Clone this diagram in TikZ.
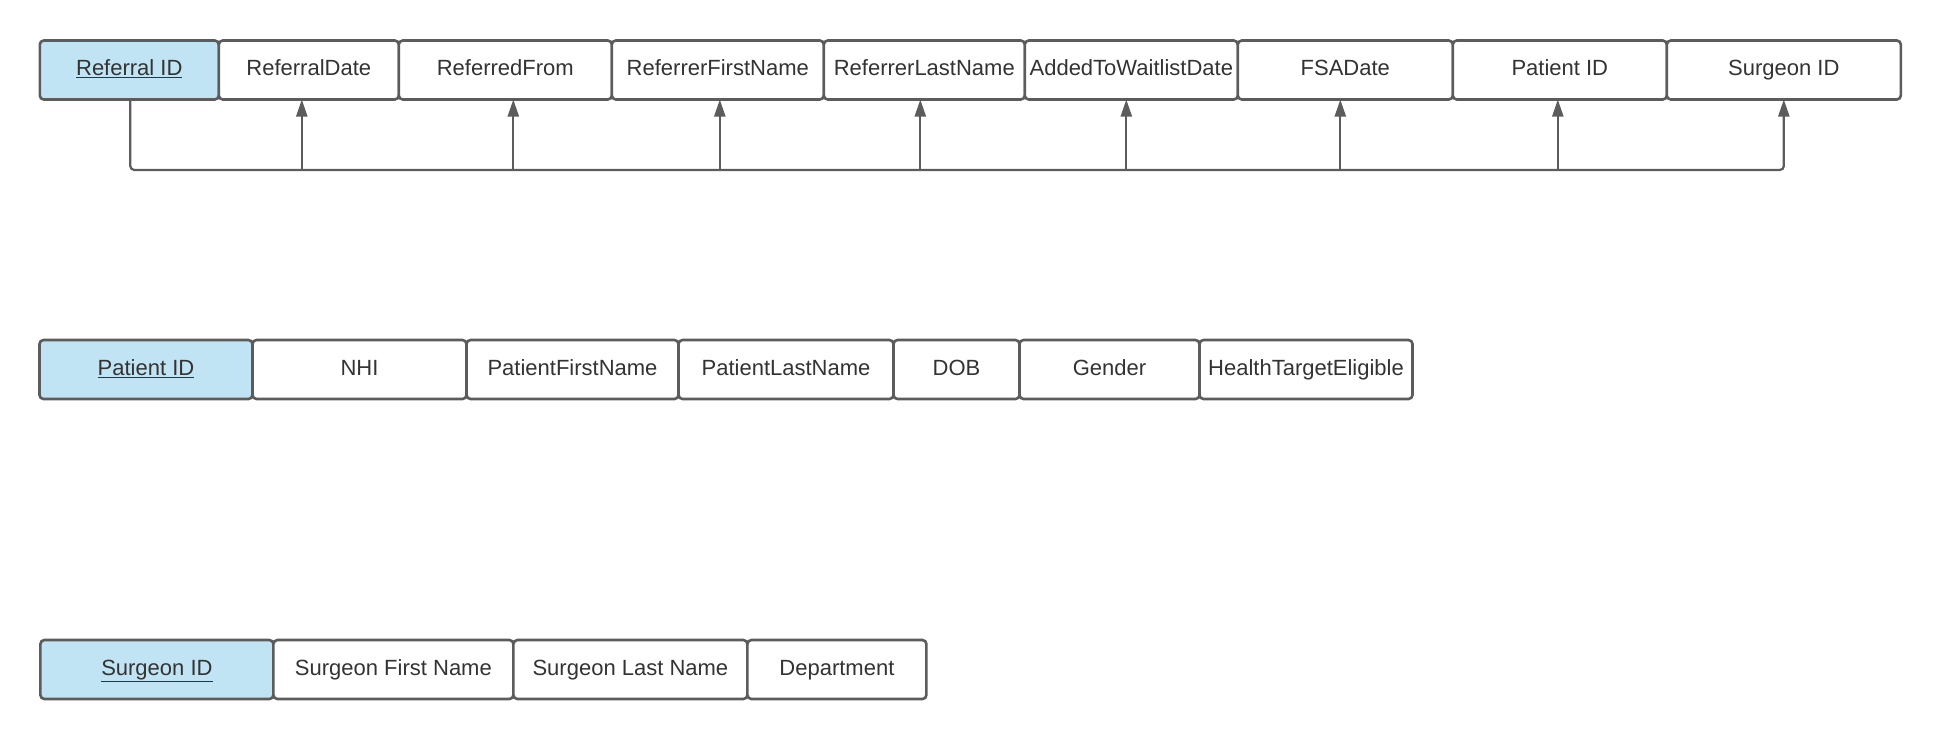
\documentclass[tikz,border=0pt]{standalone}
\usepackage{fontspec}
\setmainfont{Liberation Sans}
\usetikzlibrary{positioning,arrows.meta}
\definecolor{linegray}{RGB}{92,92,92}
\definecolor{textgray}{RGB}{51,51,51}
\definecolor{keyblue}{RGB}{193,228,245}
\tikzset{
	attr/.style={draw=linegray,line width=2.6pt,rounded corners=4pt,fill=white,text=textgray,
		minimum height=59pt,inner sep=0pt,outer sep=0pt,text height=15.8pt,text depth=4.6pt,
		font=\fontsize{22}{26}\selectfont},
	keyattr/.style={attr,fill=keyblue},
	link/.style={draw=linegray,line width=2.2pt,rounded corners=4pt},
	tip/.style={-{Triangle[length=17pt,width=11pt]}}
}
\begin{document}
\begin{tikzpicture}[x=1pt,y=-1pt]
			\useasboundingbox (0,0) rectangle (1942,740);
			% referral
			\node[keyattr,minimum width=179pt,anchor=west] (rid) at (39.8,70) {\underline{Referral ID}};
			\node[attr,minimum width=180pt,right=0pt of rid] (rdate) {ReferralDate};
			\node[attr,minimum width=213pt,right=0pt of rdate] (rfrom) {ReferredFrom};
			\node[attr,minimum width=212pt,right=0pt of rfrom] (rfirst) {ReferrerFirstName};
			\node[attr,minimum width=201pt,right=0pt of rfirst] (rlast) {ReferrerLastName};
			\node[attr,minimum width=213pt,right=0pt of rlast] (added) {AddedToWaitlistDate};
			\node[attr,minimum width=215pt,right=0pt of added] (fsa) {FSADate};
			\node[attr,minimum width=214pt,right=0pt of fsa] (rpid) {Patient ID};
			\node[attr,minimum width=234pt,right=0pt of rpid] (rsid) {Surgeon ID};
			% patient
			\node[keyattr,minimum width=213pt,anchor=west] (pid) at (39.5,369.5) {\underline{Patient ID}};
			\node[attr,minimum width=214pt,right=0pt of pid] (nhi) {NHI};
			\node[attr,minimum width=212pt,right=0pt of nhi] (pfirst) {PatientFirstName};
			\node[attr,minimum width=215pt,right=0pt of pfirst] (plast) {PatientLastName};
			\node[attr,minimum width=126pt,right=0pt of plast] (dob) {DOB};
			\node[attr,minimum width=180pt,right=0pt of dob] (gender) {Gender};
			\node[attr,minimum width=213pt,right=0pt of gender] (hte) {HealthTargetEligible};
			% surgeon
			\node[keyattr,minimum width=233pt,anchor=west] (sid) at (40.4,669.5) {\underline{Surgeon ID}};
			\node[attr,minimum width=240pt,right=0pt of sid] (sfirst) {Surgeon First Name};
			\node[attr,minimum width=234pt,right=0pt of sfirst] (slast) {Surgeon Last Name};
			\node[attr,minimum width=179pt,right=0pt of slast] (dept) {Department};

			\coordinate (bus) at (0,170);
			\draw[link,tip] ([xshift=1pt]rid.south) |- (bus -| rsid.south) -- (rsid.south);
			\draw[link,tip] ([xshift=-7pt]rdate.south |- bus) -- ([xshift=-7pt]rdate.south);
			\draw[link,tip] ([xshift=8pt]rfrom.south |- bus) -- ([xshift=8pt]rfrom.south);
			\draw[link,tip] ([xshift=2pt]rfirst.south |- bus) -- ([xshift=2pt]rfirst.south);
			\draw[link,tip] ([xshift=-4pt]rlast.south |- bus) -- ([xshift=-4pt]rlast.south);
			\draw[link,tip] ([xshift=-5pt]added.south |- bus) -- ([xshift=-5pt]added.south);
			\draw[link,tip] ([xshift=-5pt]fsa.south |- bus) -- ([xshift=-5pt]fsa.south);
			\draw[link,tip] ([xshift=-2pt]rpid.south |- bus) -- ([xshift=-2pt]rpid.south);
		\end{tikzpicture}
\end{document}
